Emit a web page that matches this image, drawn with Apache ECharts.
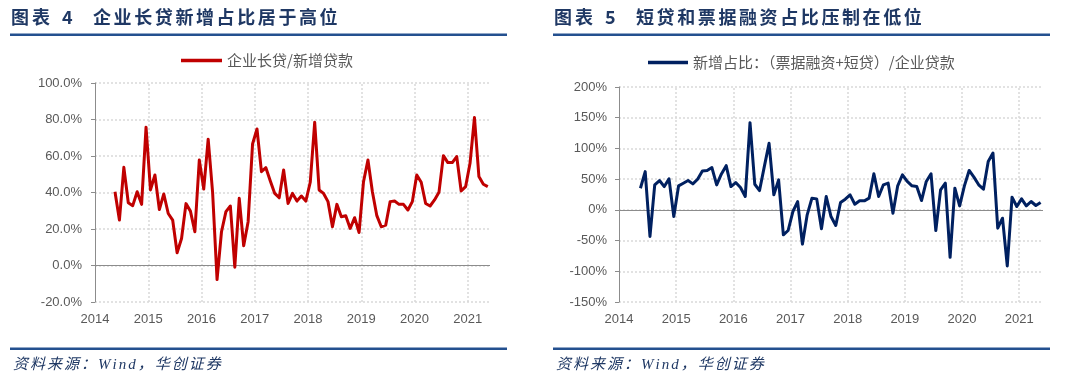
<!DOCTYPE html>
<html><head><meta charset="utf-8">
<script src="https://cdn.jsdelivr.net/npm/echarts@6/dist/echarts.min.js"></script>
<style>html,body{margin:0;padding:0;background:#fff}#c{width:1080px;height:385px}</style>
</head><body><div id="c"></div>
<script>
// ---------- data ----------
const firstMonth = '2014-01';
const lastMonth = '2021-05';
const seriesStart = '2014-05';
const leftSeriesName = '企业长贷/新增贷款';
const rightSeriesName = '新增占比：（票据融资+短贷）/企业贷款';
// 企业长贷/新增贷款 (%), monthly from 2014-05 to 2021-05
const longLoanShare = [
  40.4, 24.9, 53.8, 34.4, 32.8, 40.4, 33.5, 75.8,
  41.4, 49.6, 30.7, 39.2, 28.5, 24.9, 7.0, 14.8, 33.9, 29.8, 18.5, 57.8,
  41.9, 69.2, 40.0, -7.7, 18.5, 29.5, 32.6, -0.9, 36.8, 10.8, 24.0, 66.6,
  74.8, 51.4, 53.6, 46.3, 39.5, 37.1, 52.3, 34.0, 39.5, 35.3, 38.1, 35.3,
  45.6, 78.5, 41.4, 39.5, 35.0, 21.2, 33.5, 26.7, 27.3, 20.3, 26.2, 18.1,
  45.9, 57.8, 40.4, 27.3, 21.2, 22.1, 35.0, 35.3, 33.5, 33.5, 30.4, 35.0,
  49.6, 45.6, 34.0, 32.6, 35.9, 40.1, 60.2, 56.4, 56.4, 59.7, 40.8, 43.2,
  56.0, 81.1, 48.7, 44.5, 43.2
];
// 新增占比：（票据融资+短贷）/企业贷款 (%), monthly from 2014-05 to 2021-05
const billShortShare = [
  35.2, 62.3, -43.3, 40.6, 47.7, 37.9, 50.4, -10.8,
  39.0, 43.3, 47.7, 42.3, 49.8, 63.4, 63.9, 68.8, 40.6, 58.5, 72.0, 37.9,
  44.4, 36.3, 21.7, 141.9, 41.7, 31.4, 70.4, 108.3, 24.4, 48.8, -40.6, -33.6,
  -2.7, 13.5, -55.8, -8.1, 19.0, 17.9, -30.9, 21.7, -10.9, -25.5, 12.0, 17.4,
  24.5, 9.2, 14.7, 14.7, 19.0, 58.7, 21.7, 40.8, 43.5, -5.4, 39.1, 57.1,
  46.2, 39.1, 38.0, 15.2, 46.2, 58.7, -33.7, 32.6, 43.5, -77.2, 35.3, 6.5,
  39.1, 64.1, 53.3, 40.8, 33.7, 78.8, 92.4, -29.9, -13.6, -91.3, 20.7, 5.4,
  17.9, 6.5, 13.6, 7.1, 12.0
];
const leftYTicks = { min: -20, max: 100, interval: 20 };
const rightYTicks = { min: -150, max: 200, interval: 50 };
const leftTitle = ['图表', '4', '企业长贷新增占比居于高位'];
const rightTitle = ['图表', '5', '短贷和票据融资占比压制在低位'];
const sourceText = '资料来源：Wind，华创证券';

// ---------- months (x scale = months since 2014-01; each month drawn at its middle) ----------
function buildMonths(from, to) {
  const out = [];
  let [y, m] = from.split('-').map(Number);
  const [ty, tm] = to.split('-').map(Number);
  while (y < ty || (y === ty && m <= tm)) {
    out.push(y + '-' + String(m).padStart(2, '0'));
    m++; if (m > 12) { m = 1; y++; }
  }
  return out;
}
const months = buildMonths(firstMonth, lastMonth);
const firstYear = Number(firstMonth.slice(0, 4));
const startIdx = months.indexOf(seriesStart);
const toPairs = vals => vals.map((v, k) => [startIdx + k + 0.5, v]);
const yearStarts = months.map((m, i) => (m.endsWith('-01') && i > 0) ? i : null).filter(v => v !== null);

// ---------- text helpers ----------
const mctx = document.createElement('canvas').getContext('2d');
function spaced(str, x, y, size, spacing, st) {
  const family = st.fontFamily;
  mctx.font = `${st.fontStyle || 'normal'} ${st.fontWeight || 'normal'} ${size}px ${family}`;
  const els = [];
  let cx = x;
  for (const ch of str) {
    els.push({
      type: 'text', x: cx, y: y, silent: true,
      style: {
        text: ch, fontSize: size, fontFamily: family, fontWeight: st.fontWeight || 'normal',
        fontStyle: st.fontStyle || 'normal', fill: st.fill, align: 'left', verticalAlign: 'middle'
      }
    });
    cx += mctx.measureText(ch).width + spacing;
  }
  return els;
}
const TITLE_STYLE = { fontFamily: '"Noto Sans CJK SC"', fontWeight: 'bold', fill: '#1F3864' };
const SRC_STYLE = { fontFamily: '"Liberation Serif", "Noto Sans CJK SC"', fontStyle: 'italic', fill: '#1F3864' };

function panelGraphics(x0, x1, title) {
  return [].concat(
    spaced(title[0], x0 + 1, 17, 18, 3, TITLE_STYLE),
    spaced(title[1], x0 + 52, 17, 18, 3, TITLE_STYLE),
    spaced(title[2], x0 + 83, 17, 18, 2.6, TITLE_STYLE),
    [{ type: 'rect', silent: true, shape: { x: x0, y: 33.5, width: x1 - x0, height: 2.5 }, style: { fill: '#24508F' } },
     { type: 'rect', silent: true, shape: { x: x0, y: 347.5, width: x1 - x0, height: 2.5 }, style: { fill: '#24508F' } }],
    spaced(sourceText, x0 + 3, 365, 15, 2.0, SRC_STYLE)
  );
}

// ---------- axes ----------
const GRID_COLOR = '#D9D9D9';
const AXIS_COLOR = '#8C8C8C';
const LABEL = { color: '#595959', fontSize: 13, fontFamily: '"Liberation Sans", Arial' };
const gridLine = () => ({ color: GRID_COLOR, width: 1.5, type: [2, 2] });

function xAxis(gridIndex) {
  return {
    type: 'value', gridIndex, min: 0, max: months.length, interval: 12,
    axisLine: { show: false, onZero: false },
    axisTick: { show: false },
    axisLabel: Object.assign({
      margin: 11, showMaxLabel: false,
      formatter: v => (v % 12 === 0 ? String(firstYear + v / 12) : '')
    }, LABEL),
    splitLine: { show: false }
  };
}
function yAxis(gridIndex, t, fmt, margin) {
  return {
    type: 'value', gridIndex, min: t.min, max: t.max, interval: t.interval,
    axisLine: { show: true, lineStyle: { color: AXIS_COLOR, width: 1 } },
    axisTick: { show: true, length: 4, lineStyle: { color: AXIS_COLOR } },
    axisLabel: Object.assign({ formatter: fmt, margin }, LABEL),
    splitLine: { show: true, lineStyle: gridLine() }
  };
}
// yearly vertical grid lines + zero line, placed through the axes' scales
const guideLines = () => ({
  silent: true, symbol: ['none', 'none'], label: { show: false }, z: 1, animation: false,
  emphasis: { disabled: true },
  data: yearStarts.map(i => ({ xAxis: i, lineStyle: gridLine() }))
    .concat([{ yAxis: 0, lineStyle: { color: AXIS_COLOR, width: 1, type: 'solid' } }])
});

const LEGEND_TEXT = { color: '#595959', fontSize: 15, fontFamily: '"Noto Sans CJK SC"' };

const option = {
  animation: false,
  backgroundColor: '#ffffff',
  grid: [
    { left: 95, top: 83, width: 395, height: 219 },
    { left: 619, top: 87, width: 424, height: 215 }
  ],
  xAxis: [xAxis(0), xAxis(1)],
  yAxis: [
    yAxis(0, leftYTicks, v => v.toFixed(1) + '%', 13),
    yAxis(1, rightYTicks, v => v + '%', 12)
  ],
  legend: [
    { data: [leftSeriesName], left: 181, top: 53, icon: 'rect', itemWidth: 41, itemHeight: 3.5, itemGap: 10, textStyle: LEGEND_TEXT, padding: 0 },
    { data: [rightSeriesName], left: 648, top: 55, icon: 'rect', itemWidth: 40, itemHeight: 3.5, itemGap: 10, textStyle: LEGEND_TEXT, padding: 0 }
  ],
  series: [
    { name: leftSeriesName, type: 'line', xAxisIndex: 0, yAxisIndex: 0, data: toPairs(longLoanShare),
      symbol: 'none', lineStyle: { color: '#C00000', width: 3, join: 'round' }, itemStyle: { color: '#C00000' },
      markLine: guideLines(), z: 3 },
    { name: rightSeriesName, type: 'line', xAxisIndex: 1, yAxisIndex: 1, data: toPairs(billShortShare),
      symbol: 'none', lineStyle: { color: '#002060', width: 3, join: 'round' }, itemStyle: { color: '#002060' },
      markLine: guideLines(), z: 3 }
  ],
  graphic: [].concat(panelGraphics(10, 507, leftTitle), panelGraphics(553, 1050, rightTitle))
};

const chart = echarts.init(document.getElementById('c'), null, { renderer: 'canvas' });
chart.setOption(option);
</script>
</body></html>
